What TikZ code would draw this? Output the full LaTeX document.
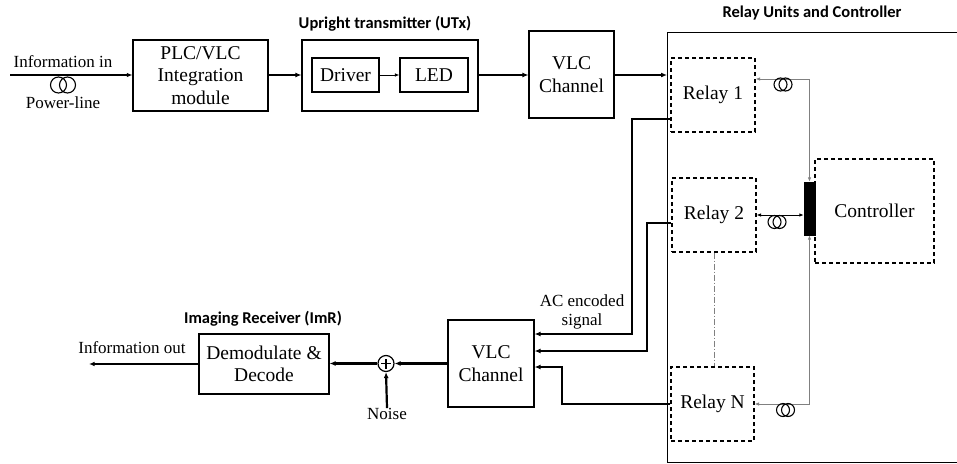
\documentclass[tikz,border=0pt]{standalone}
\usepackage{fontspec}
\setmainfont{Liberation Serif}
\newfontfamily\titlefont{Carlito}
\usetikzlibrary{arrows.meta,calc}
\tikzset{
  box/.style={draw,line width=1.1pt,align=center,inner sep=0pt,font=\fontsize{19.5}{22.5}\selectfont},
  dbox/.style={box,dash pattern=on 4pt off 3pt},
  lbl/.style={font=\fontsize{17}{19.5}\selectfont,align=center,inner sep=0pt},
  ttl/.style={font=\titlefont\bfseries\fontsize{16.5}{19}\selectfont,inner sep=0pt},
  tharrow/.style={line width=2.2pt,arrows={-Latex[length=6pt,width=5pt]}},
  tnarrow/.style={line width=1.3pt,arrows={-Latex[length=5.5pt,width=4.5pt]}},
  smarrow/.style={line width=0.8pt,arrows={-Latex[length=4.5pt,width=3.5pt]}},
  ctl/.style={draw=gray,line width=0.9pt,arrows={Latex[length=4.5pt,width=3.5pt]-Latex[length=4.5pt,width=3.5pt]}},
  ctlb/.style={ctl,draw=black},
  pics/coil/.style 2 args={code={\draw[line width=1.1pt] (-#2,0) circle (#1 pt) (#2,0) circle (#1 pt);}},
}
\begin{document}
\begin{tikzpicture}[x=1pt,y=-1pt]
\useasboundingbox (0,0) rectangle (957,463);

% titles
\node[ttl] (tutx) at (385,24) {Upright transmitter (UTx)};
\node[ttl] (trel) at (812,13) {Relay Units and Controller};
\node[ttl] (timr) at (263,319) {Imaging Receiver (ImR)};

% upper chain
\node[box,minimum width=135pt,minimum height=71pt] (plc) at (200.5,75.5) {PLC/VLC\\Integration\\module};
\node[box,minimum width=176pt,minimum height=71pt] (utx) at (390,75.5) {};
\node[box,minimum width=67pt,minimum height=34pt] (driver) at (345.5,75) {Driver};
\node[box,minimum width=68pt,minimum height=34pt] (led) at (434,75) {LED};
\node[box,minimum width=85pt,minimum height=87pt] (vlc1) at (571.5,74.5) {VLC\\Channel};

% input
\node[lbl] (infoin) at (63,62) {Information in};
\pic at (63,85) {coil={8}{4.5}};
\node[lbl] (power) at (63,103) {Power-line};
\coordinate (instart) at (10,75);
\draw[tnarrow] (instart) -- (plc.west |- instart);

\draw[tharrow] (plc.east |- instart) -- (utx.west |- instart);
\draw[smarrow] (driver) -- (led);
\draw[tharrow] (utx.east |- instart) -- (vlc1.west |- instart);

% container
\coordinate (cont) at (667,32);
\draw[line width=1pt] (957,32) -- (cont) -- (667,462) -- (957,462);
\draw[tharrow] (vlc1.east |- instart) -- (cont |- instart);

% relays & controller
\node[dbox,minimum width=84pt,minimum height=74pt] (relay1) at (713,95) {Relay 1};
\node[dbox,minimum width=84pt,minimum height=74pt] (relay2) at (714,215) {Relay 2};
\node[dbox,minimum width=83pt,minimum height=74pt] (relayN) at (712.5,404) {Relay N};
\node[dbox,minimum width=119pt,minimum height=104pt] (ctrl) at (874.5,211) {Controller};
\node[draw,fill=black,inner sep=0pt,minimum width=11pt,minimum height=53pt] (bar) at (809.5,208.5) {};

\coordinate (c1) at (809,79);
\draw[ctl] (relay1.east |- c1) -| (bar.north);
\pic at (783,84.5) {coil={6.5}{2.5}};
\draw[ctlb] (relay2.east) -- (bar.west |- relay2.east);
\pic at (777,222) {coil={6.5}{2.5}};
\draw[ctl] (relayN.east) -| (bar.south);
\pic at (785.5,410) {coil={6.5}{2.5}};
\draw[gray,line width=0.8pt,dash pattern=on 6pt off 2pt on 1pt off 2pt] (relay2.south) -- (relay2.south |- relayN.north);

% lower chain
\node[box,minimum width=86pt,minimum height=87pt] (vlc2) at (491,363.5) {VLC\\Channel};
\node[circle,draw,line width=1.2pt,minimum size=16pt,inner sep=0pt,
  path picture={\draw[line width=1.6pt] ([xshift=-5pt]path picture bounding box.center) -- ([xshift=5pt]path picture bounding box.center) ([yshift=-5pt]path picture bounding box.center) -- ([yshift=5pt]path picture bounding box.center);}] (sum) at (386,363.5) {};
\node[box,minimum width=130pt,minimum height=60pt] (demod) at (264,364) {Demodulate \&\\Decode};
\node[lbl] (noise) at (387,414) {Noise};
\node[lbl] (infoout) at (132,348) {Information out};
\node[lbl] (acsig) at (582,312) {AC encoded\\signal};

\draw[tharrow] (vlc2.west |- sum) -- (sum.east);
\draw[tharrow] (sum.west) -- (demod.east |- sum);
\draw[tharrow] (noise.north) -- (sum.south);
\coordinate (outend) at (89,364);
\draw[tnarrow] (demod.west) -- (outend);

% relay outputs to VLC channel
\coordinate (j1t) at (632,119);
\coordinate (j1b) at (632,334);
\draw[tharrow] (relay1.west |- j1t) -- (j1t) -- (j1b) -- (vlc2.east |- j1b);
\coordinate (j2t) at (647,223);
\coordinate (j2b) at (647,351);
\draw[tharrow] (relay2.west |- j2t) -- (j2t) -- (j2b) -- (vlc2.east |- j2b);
\coordinate (j3) at (562,367);
\draw[tharrow] (relayN.west) -| (j3) -- (vlc2.east |- j3);
\end{tikzpicture}
\end{document}
